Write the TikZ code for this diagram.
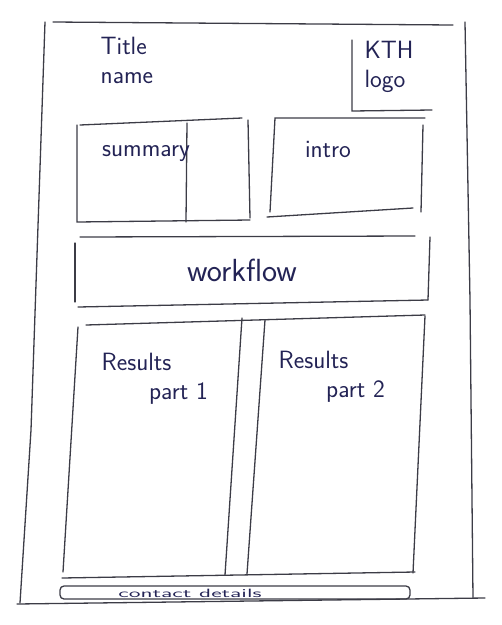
\documentclass[tikz,border=0pt]{standalone}
\usepackage{tikz}
\usepackage{xcolor}
\usepackage{graphicx}
\definecolor{pen}{RGB}{60,60,70}
\definecolor{ink}{RGB}{35,35,85}

\begin{document}
\begin{tikzpicture}[x=1pt, y=-1pt, line width=1.3pt, draw=pen, line cap=round,
	lbl/.style={text=ink, font=\sffamily\fontsize{25}{29}\selectfont, align=left, inner sep=0pt}]
	\useasboundingbox (0,0) rectangle (502,625);
	% sheet
	\draw (53,22) -- (453,25);
	\draw (45,22) -- (31,430) -- (20,603);
	\draw (465,22) -- (470,300) -- (473,598);
	\draw (17,604) -- (485,598);
	% title and logo
	\node[lbl, anchor=north west] (title) at (100,36) {Title\\name};
	\draw (352,40) -- (352,111) -- (432,110);
	\node[lbl, anchor=north west] (logo) at (364,40) {KTH\\logo};
	% summary
	\draw (80,125) -- (242,118);
	\draw (77,125) -- (77,222) -- (250,220);
	\draw (248,120) -- (250,218);
	\draw (187,123) -- (186,222);
	\node[lbl] (summary) at (146,154) {summary};
	% intro
	\draw (270,212) -- (275,118) -- (425,118);
	\draw (423,125) -- (421,212);
	\draw (267,217) -- (413,208);
	\node[lbl] (intro) at (328,149) {intro};
	% workflow
	\draw (80,237) -- (415,236);
	\draw (75,243) -- (75,302);
	\draw (430,237) -- (428,300);
	\draw (78,307) -- (428,300);
	\node[lbl, font=\sffamily\fontsize{32}{34}\selectfont] (workflow) at (242,270) {workflow};
	% results
	\draw (86,325) -- (425,315);
	\draw (78,327) -- (63,572);
	\draw (242,318) -- (225,575);
	\draw (265,320) -- (247,574);
	\draw (425,316) -- (413,573);
	\draw (62,578) -- (415,572);
	\node[lbl, anchor=north west] (res1) at (101,352) {Results\\\hspace*{1.9em}part 1};
	\node[lbl, anchor=north west] (res2) at (278,350) {Results\\\hspace*{1.9em}part 2};
	% contact
	\draw[rounded corners=4pt] (60,586) rectangle (410,599);
	\node[lbl, font=\sffamily\fontsize{12}{12}\selectfont] (contact) at (190,593) {\scalebox{2}[1]{contact details}};
\end{tikzpicture}
\end{document}
